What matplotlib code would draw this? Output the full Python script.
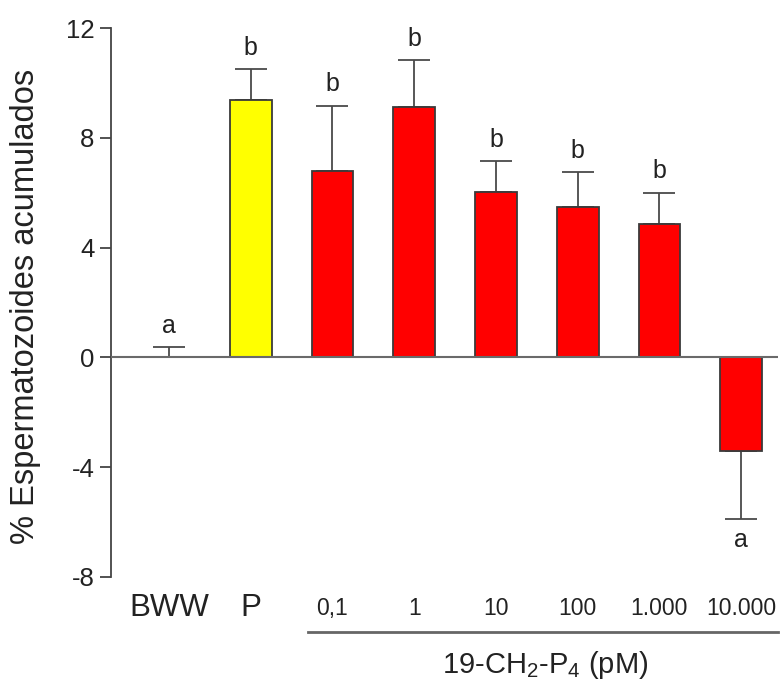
import matplotlib
matplotlib.use('Agg')
import matplotlib.pyplot as plt
import matplotlib.transforms as mtransforms
import numpy as np

plt.rcParams['font.family'] = ['Liberation Sans', 'DejaVu Sans']
plt.rcParams['mathtext.fontset'] = 'custom'
plt.rcParams['mathtext.rm'] = 'Liberation Sans'
plt.rcParams['mathtext.it'] = 'Liberation Sans'
plt.rcParams['axes.unicode_minus'] = False

# data
groups = ['BWW', 'P', '0,1', '1', '10', '100', '1.000', '10.000']
means = [0.0, 9.38, 6.8, 9.13, 6.02, 5.47, 4.86, -3.42]
errors = [0.37, 1.12, 2.36, 1.69, 1.12, 1.28, 1.13, 2.46]
letters = ['a', 'b', 'b', 'b', 'b', 'b', 'b', 'a']
bar_colors = ['white', '#ffff00', '#ff0000', '#ff0000', '#ff0000', '#ff0000', '#ff0000', '#ff0000']
yticks = [-8, -4, 0, 4, 8, 12]
xtitle = '19-CH$_2$-P$_4$ (pM)'

fig = plt.figure(figsize=(7.8, 6.83), dpi=100)
ax = fig.add_axes([0.1423, 0.1552, 0.855, 0.8038])

x = np.arange(len(groups))
for i in range(len(groups)):
    if means[i] != 0:
        # BWW has no visible bar, only the error bar
        ax.bar(x[i], means[i], width=0.51, color=bar_colors[i], edgecolor='#3a3a3a',
               linewidth=1.3, zorder=2)
    sign = 1 if means[i] >= 0 else -1
    if sign > 0:
        yerr = [[0], [errors[i]]]
    else:
        yerr = [[errors[i]], [0]]
    ax.errorbar(x[i], means[i], yerr=yerr, fmt='none', ecolor='#4a4a4a',
                elinewidth=1.3, capsize=11.5, capthick=1.3, zorder=1)
    tip = means[i] + sign * errors[i]
    if sign > 0:
        ax.text(x[i], tip + 0.35, letters[i], ha='center', va='bottom', fontsize=18, color='#222222')
    else:
        ax.text(x[i], tip - 0.35, letters[i], ha='center', va='top', fontsize=18, color='#222222')

ax.axhline(0, color='#6a6a6a', linewidth=1.5, zorder=3)

ax.set_xlim(-0.71, 7.45)
ax.set_ylim(-8, 12)
ax.set_yticks(yticks)
ax.set_yticklabels([str(v) for v in yticks])
ax.tick_params(axis='y', length=8, width=1.3, color='#444444', labelsize=18.5, pad=4, labelcolor='#222222')

ax.set_xticks(x)
ax.set_xticklabels(groups)
ax.tick_params(axis='x', length=0, pad=22.5, labelcolor='#222222')
for i, lab in enumerate(ax.get_xticklabels()):
    lab.set_va('center')
    lab.set_fontsize(22.5 if i < 2 else 16.5)

for s in ['top', 'right', 'bottom']:
    ax.spines[s].set_visible(False)
ax.spines['left'].set_color('#444444')
ax.spines['left'].set_linewidth(1.3)

fig.text(26 / 780, 1 - 306 / 683, '% Espermatozoides acumulados', rotation=90,
         ha='center', va='center', fontsize=23.5, color='#222222')

# underline grouping the concentrations
trans = mtransforms.blended_transform_factory(ax.transData, ax.transAxes)
ax.plot([1.7, 7.45], [-0.1, -0.1], transform=trans, color='#666666', linewidth=2, clip_on=False)
ax.text(4.6, -0.175, xtitle, transform=trans, ha='center', va='baseline', fontsize=21, color='#222222')

fig.savefig('out.png', dpi=100)
